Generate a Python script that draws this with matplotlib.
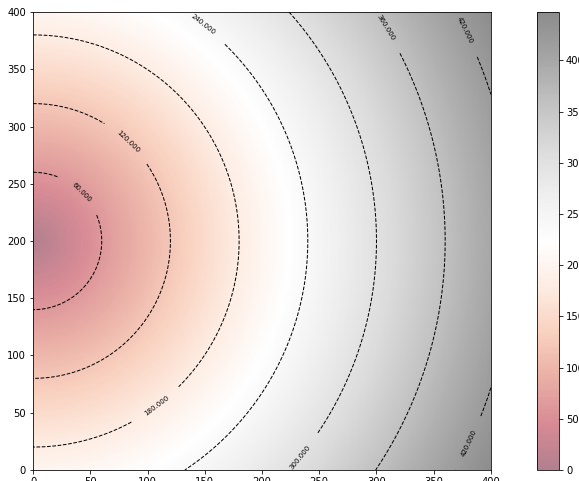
import numpy as np
import matplotlib
matplotlib.use("Agg")
import matplotlib.pyplot as plt

# grid extent and the point distances are measured from
x_range = [0, 400]
y_range = [0, 400]
center = (0, 200)
levels = [60, 120, 180, 240, 300, 360, 420]
cbar_ticks = [0, 50, 100, 150, 200, 250, 300, 350, 400]
# rough spots where the contour labels sit (data coords)
label_spots = [(43, 243), (82, 286), (106, 58), (146, 386),
               (233, 11), (307, 386), (377, 384), (379, 24)]

x = np.linspace(x_range[0], x_range[1], 401)
y = np.linspace(y_range[0], y_range[1], 401)
X, Y = np.meshgrid(x, y)
dist = np.sqrt((X - center[0]) ** 2 + (Y - center[1]) ** 2)

fig = plt.figure(figsize=(579 / 72, 481 / 72), dpi=72)
ax = fig.add_axes([0.057, 0.023, 0.791, 0.952])
cax = fig.add_axes([0.9275, 0.023, 0.038, 0.952])

im = ax.imshow(dist, extent=[x_range[0], x_range[1], y_range[0], y_range[1]],
               origin="lower", cmap="RdGy", alpha=0.5)
cs = ax.contour(X, Y, dist, levels=levels, colors="black",
                linestyles="dashed", linewidths=1)
ax.clabel(cs, inline=True, inline_spacing=15, fontsize=7, fmt="%.3f",
          manual=label_spots)
ax.set_xlim(x_range)
ax.set_ylim(y_range)

cb = fig.colorbar(im, cax=cax, ticks=cbar_ticks)

fig.savefig("out.png", dpi=72)
